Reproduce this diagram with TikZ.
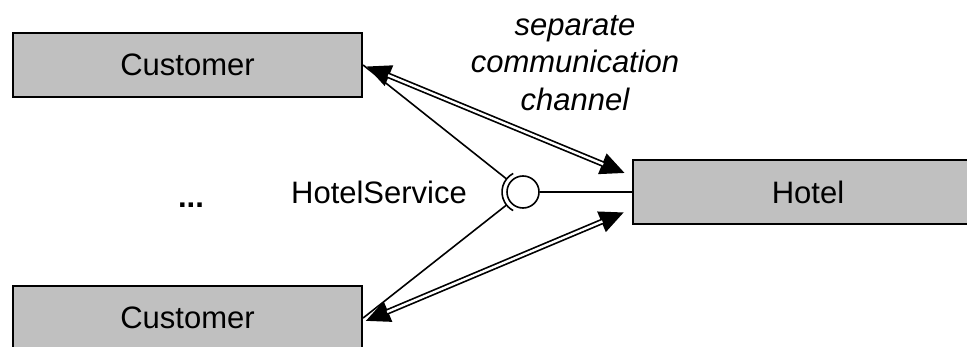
\documentclass[tikz,border=0pt]{standalone}
\usepackage{fontspec}
\setmainfont{Liberation Sans}
\usetikzlibrary{arrows.meta}
\definecolor{boxgray}{RGB}{192,192,192}

\begin{document}
\begin{tikzpicture}[x = .5pt, y = -.5pt,
		font = \fontsize{15.5}{18.75}\selectfont,
		box/.style = {draw, line width = 1.1pt, fill = boxgray, minimum width = 174.5pt, minimum height = 32pt, inner sep = 0pt},
		wire/.style = {line width = .8pt},
		tips/.style = {line width = .8pt, {Triangle[length = 12pt, width = 11pt]}-{Triangle[length = 12pt, width = 11pt]}},
		chan/.style = {double, double distance = 1.2pt, line width = .85pt}]
		\useasboundingbox (0, 0) rectangle (967, 347);
		\node at (187.5, 65) [box] (cust1) {Customer};
		\node at (187.5, 318) [box] (cust2) {Customer};
		\node at (808, 192) [box, minimum width = 175pt] (hotel) {Hotel};
		\node at (523, 192) [circle, draw, wire, fill = white, minimum size = 16pt, inner sep = 0pt] (ball) {};
		\draw [wire] ([shift = {(118:10.5pt)}]ball.center) arc (118:242:10.5pt);
		\draw [wire] (ball.east) -- (hotel.west);
		\draw [wire, shorten >= 10.5pt] (cust1.east) -- (ball.center);
		\draw [wire, shorten >= 10.5pt] (cust2.east) -- (ball.center);
		\draw [tips, shorten <= 2pt, shorten >= 4pt] (cust1.east) -- ([yshift = 8pt]hotel.west);
		\draw [chan, shorten <= 13.5pt, shorten >= 15.5pt] (cust1.east) -- ([yshift = 8pt]hotel.west);
		\draw [tips, shorten <= 1.5pt, shorten >= 4.5pt] ([yshift = -2pt]cust2.east) -- ([yshift = -8.5pt]hotel.west);
		\draw [chan, shorten <= 13pt, shorten >= 16pt] ([yshift = -2pt]cust2.east) -- ([yshift = -8.5pt]hotel.west);
		\node at (575, 63) [align = center, font = \fontsize{15.5}{18.75}\selectfont\itshape] (chanlbl) {separate\\communication\\channel};
		\node at (379, 192) (srvlbl) {HotelService};
		\node at (191, 207) [anchor = base, font = \fontsize{15.5}{18.75}\selectfont\bfseries] (dots) {...};
	\end{tikzpicture}
\end{document}
